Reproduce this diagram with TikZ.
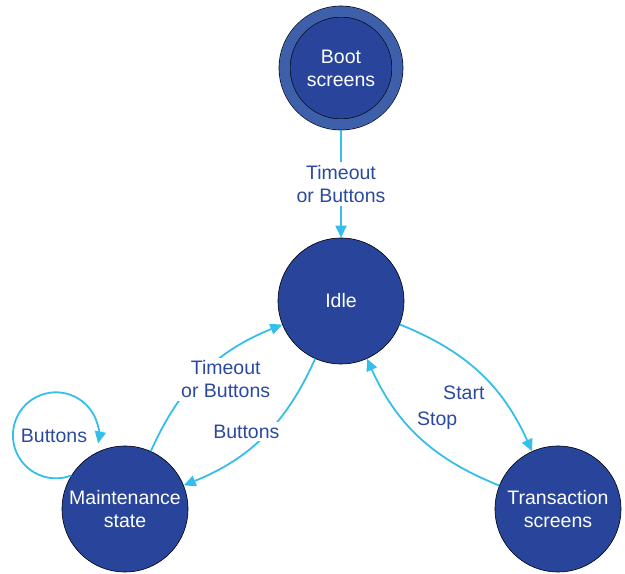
\documentclass[tikz,border=0pt]{standalone}
\usepackage{fontspec}
\setmainfont{Liberation Sans}
\usetikzlibrary{arrows.meta}

\begin{document}
\begin{tikzpicture}[x=1pt, y=1pt,
    state/.style={circle, draw=black, line width=0.6pt, fill=stateBlue, text=white,
        minimum size=126pt, inner sep=0pt, align=center, font=\fontsize{19.5}{23}\selectfont},
    link/.style={draw=linkCyan, line width=1.8pt, -{Triangle[length=12pt,width=11pt]}},
    lbl/.style={text=labelBlue, align=center, inner sep=3pt, font=\fontsize{19.5}{23}\selectfont},
    cut/.style={lbl, fill=white}]
    % Define colours
    \definecolor{stateBlue}{HTML}{28459B}
    \definecolor{ringBlue}{HTML}{3E60AA}
    \definecolor{linkCyan}{HTML}{33BFEA}
    \definecolor{labelBlue}{HTML}{2B4A9F}

    % Fix the page size
    \useasboundingbox (0,0) rectangle (625,574);

    % Draw the states
    \node[state, minimum size=113pt, double=ringBlue, double distance=10.5pt, outer sep=6pt]
        (boot) at (341,506) {Boot\\screens};
    \node[state] (idle) at (341,273) {Idle};
    \node[state] (maint) at (125,65) {Maintenance\\state};
    \node[state] (trans) at (558,65) {Transaction\\screens};

    % Draw the transitions
    \draw[link] (boot) -- node[cut] {Timeout\\or Buttons} (idle);
    \draw[link] (maint) to[bend left=22] node[cut, xshift=23, yshift=-6] {Timeout\\or Buttons} (idle);
    \draw[link] (idle) to[bend left=22] node[cut, xshift=-17, yshift=5] {Buttons} (maint);
    \draw[link] (idle) to[bend left=22] node[lbl, xshift=-16, yshift=-19] {Start} (trans);
    \draw[link] (trans) to[bend left=22] node[lbl, xshift=18, yshift=16] {Stop} (idle);

    % Draw the self loop of the maintenance state
    \draw[link] (maint.148) arc[start angle=-69, end angle=-371, radius=43];
    \node[lbl] (loopText) at (54,138) {Buttons};

\end{tikzpicture}
\end{document}
